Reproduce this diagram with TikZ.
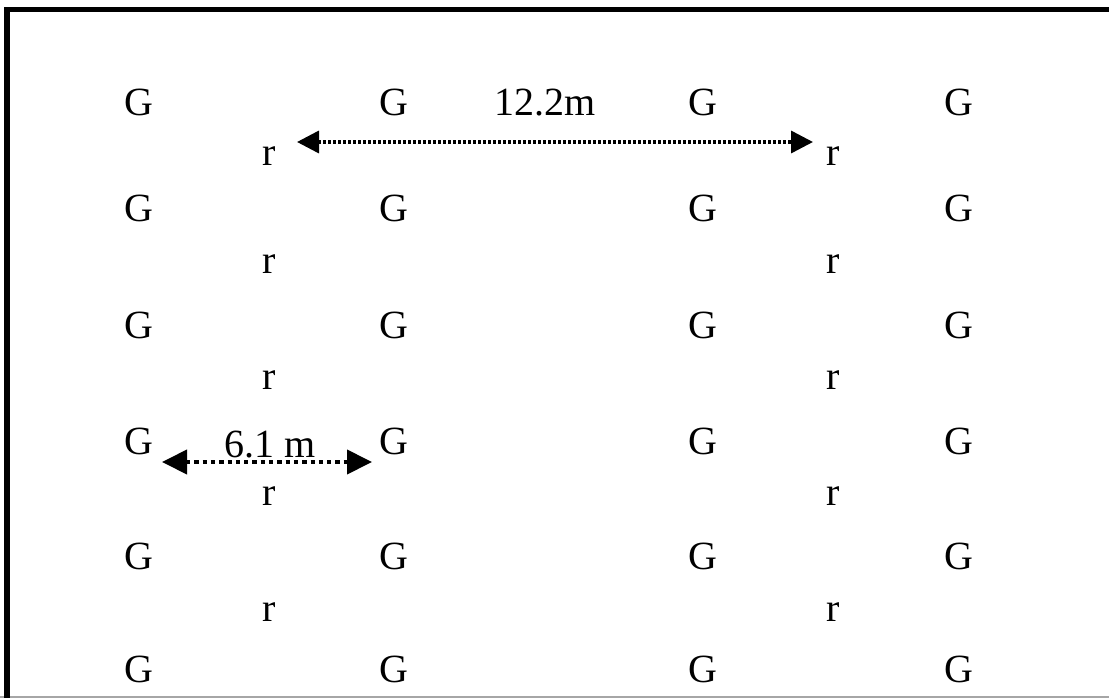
\documentclass[tikz,border=0pt]{standalone}
\usepackage{fontspec}
\setmainfont{Liberation Serif}
\usetikzlibrary{arrows.meta}
\tikzset{
  lbl/.style={anchor=base, inner sep=0pt, font=\fontsize{40}{48}\selectfont},
  dimline/.style={line width=3.5pt, dash pattern=on 2.5pt off 2.5pt,
    {Triangle[length=22pt,width=22pt]}-{Triangle[length=22pt,width=22pt]}},
}
\begin{document}
\begin{tikzpicture}[x=1pt, y=-1pt]
\useasboundingbox (0,0) rectangle (1109,698);
% frame
\draw[gray!70, line width=1.5pt] (0,697) -- (1109,697);
\draw[line width=5.5pt] (7,698) -- (7,9.5) -- (1109,9.5);
% plants
\foreach \y [count=\i] in {116,222,338,454,569,682}
  \foreach \x [count=\j] in {139,394,703,959}
    \node[lbl] (g-\i-\j) at (\x,\y) {G};
\foreach \y [count=\i] in {166,273,389,505,621}
  \foreach \x [count=\j] in {269,833}
    \node[lbl] (r-\i-\j) at (\x,\y) {r};
% spacings
\node[lbl] (wide) at (545,116) {12.2m};
\node[lbl] (narrow) at (270,457) {6.1 m};
\coordinate (wide-l) at (297,142);
\coordinate (wide-r) at (813,142);
\coordinate (narrow-l) at (162,462);
\coordinate (narrow-r) at (372,462);
\draw[dimline] (wide-l) -- (wide-r);
\draw[dimline, line width=4pt, dash pattern=on 4.3pt off 4pt,
  {Triangle[length=25pt,width=24pt]}-{Triangle[length=25pt,width=24pt]}]
  (narrow-l) -- (narrow-r);
\end{tikzpicture}
\end{document}
